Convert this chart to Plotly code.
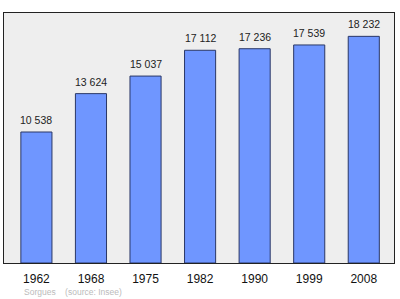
import plotly.graph_objects as go

years = ["1962", "1968", "1975", "1982", "1990", "1999", "2008"]
population = [10538, 13624, 15037, 17112, 17236, 17539, 18232]
value_labels = ["10 538", "13 624", "15 037", "17 112", "17 236", "17 539", "18 232"]
idx = list(range(len(years)))

FONT = "Liberation Sans, Arial, sans-serif"

fig = go.Figure()
fig.add_trace(go.Bar(
    x=idx, y=population, width=0.57,
    marker=dict(color="#6f96ff", line=dict(color="#2a3766", width=1)),
    hoverinfo="skip",
))

annotations = [
    dict(x=i, y=v, text=t, xref="x", yref="y", showarrow=False,
         yanchor="middle", xanchor="center", yshift=12,
         font=dict(family=FONT, size=10.5, color="#222222"))
    for i, v, t in zip(idx, population, value_labels)
]
annotations.append(dict(
    text="Sorgues &nbsp;&nbsp; (source: Insee)",
    xref="paper", yref="paper", x=18/390, y=-28.5/250,
    xanchor="left", yanchor="middle", showarrow=False,
    font=dict(family=FONT, size=8.5, color="#bbbbbb"),
))

fig.update_layout(
    width=400, height=299,
    margin=dict(l=4, r=6, t=13, b=36),
    paper_bgcolor="white",
    plot_bgcolor="#eeeeee",
    showlegend=False,
    xaxis=dict(
        range=[-0.594, 6.554],
        tickvals=idx, ticktext=years,
        showgrid=False, zeroline=False,
        showline=True, mirror=True, linecolor="#222222", linewidth=1,
        ticks="", ticklen=0, ticklabelstandoff=5,
        tickfont=dict(family=FONT, size=12, color="#111111"),
    ),
    yaxis=dict(
        range=[0, 20110],
        showgrid=False, zeroline=False, showticklabels=False,
        showline=True, mirror=True, linecolor="#222222", linewidth=1,
        ticks="",
    ),
    annotations=annotations,
)

fig.write_html("out.html")
